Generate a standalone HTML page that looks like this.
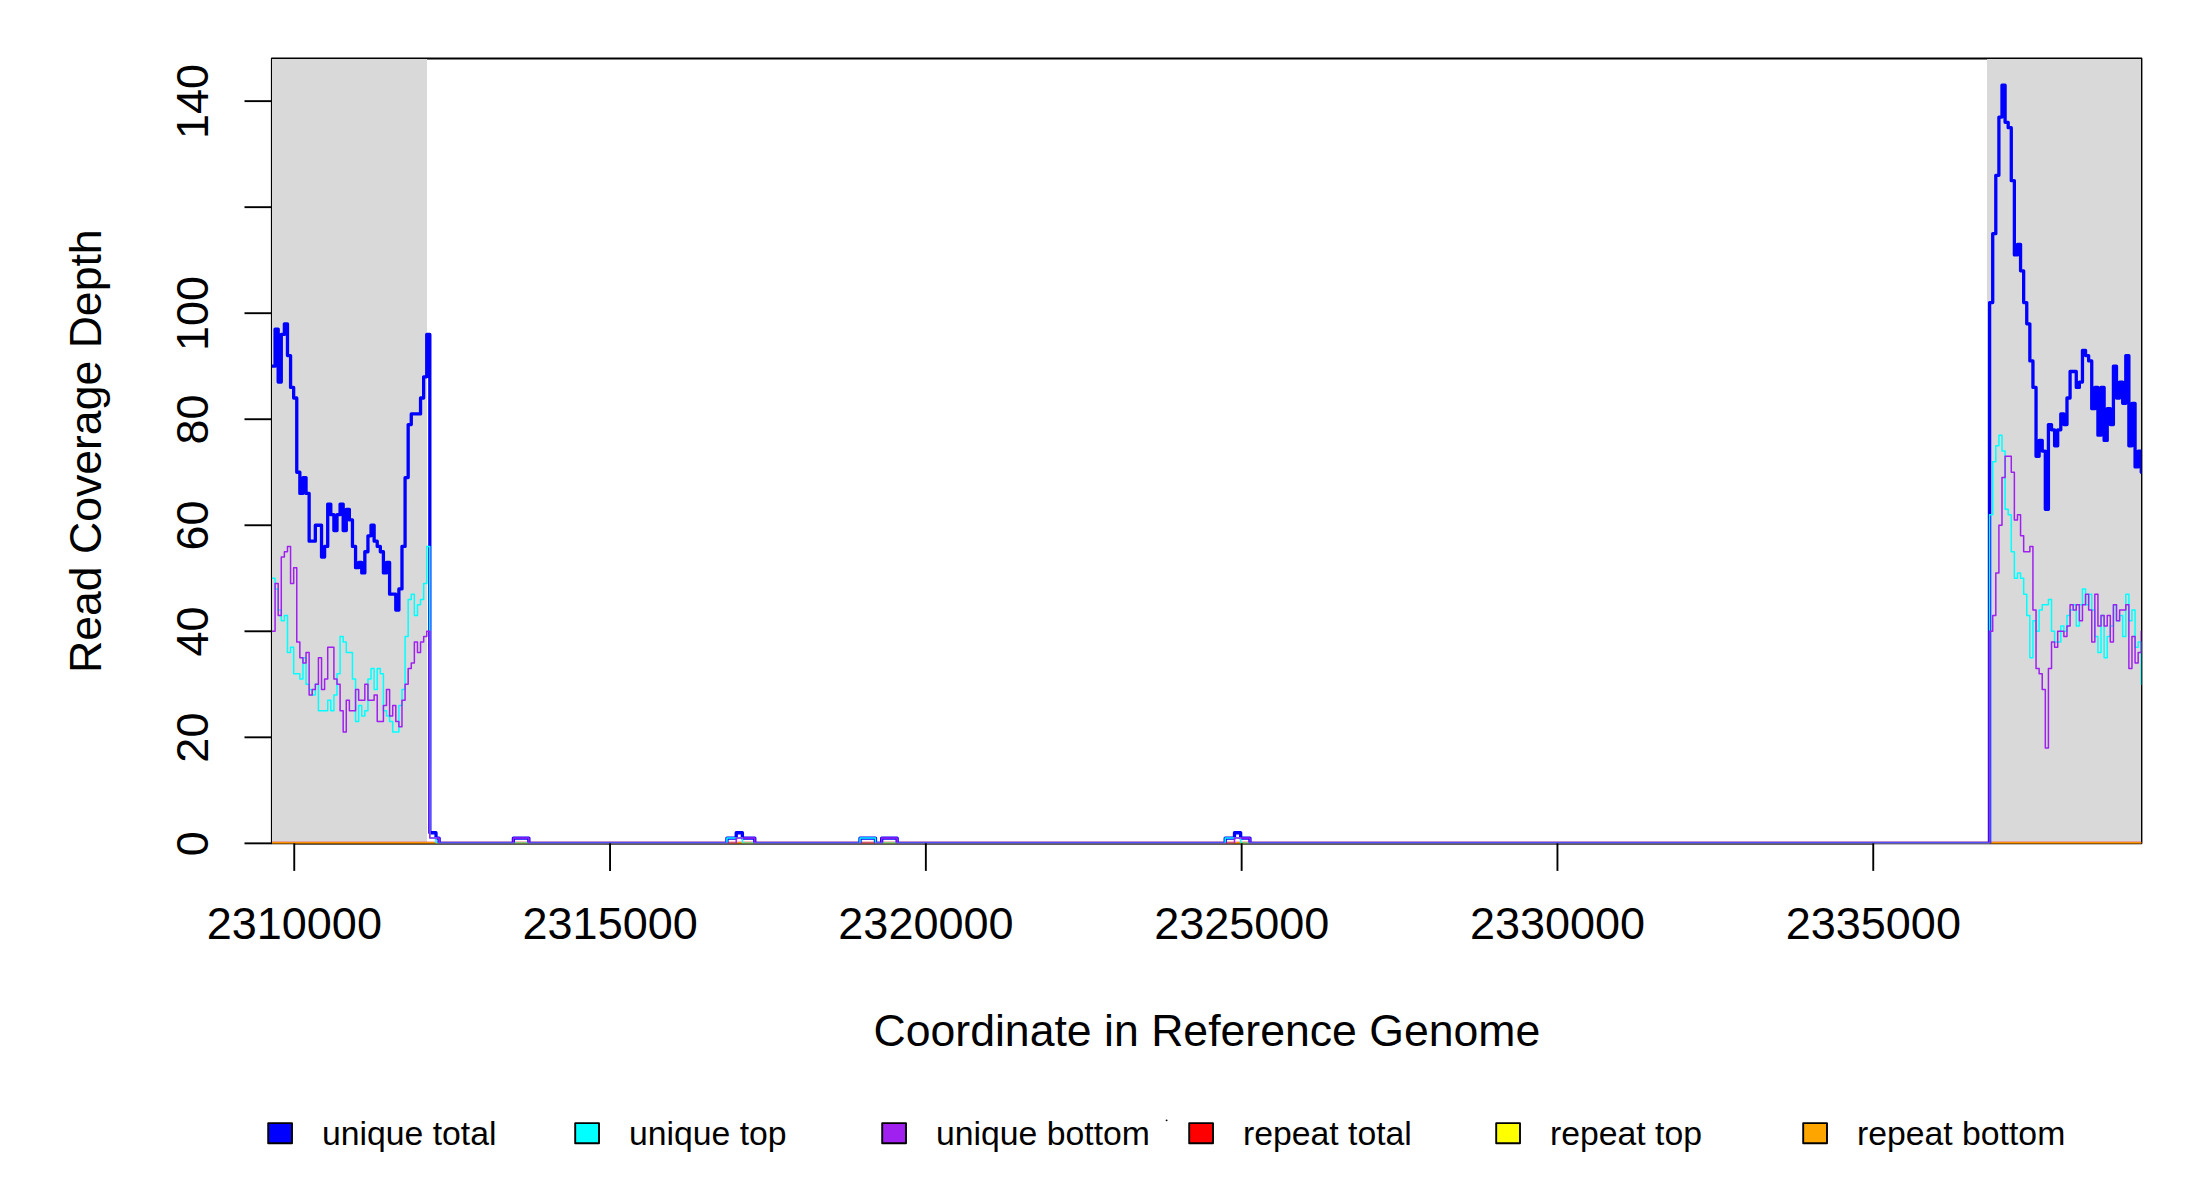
<!DOCTYPE html>
<html lang="en"><head><meta charset="utf-8">
<title>Read Coverage Depth</title>
<style>
html,body{margin:0;padding:0;background:#fff;}
body{width:2200px;height:1200px;overflow:hidden;}
svg{display:block;}
text{font-family:'Liberation Sans', Arial, Helvetica, sans-serif;fill:#000;}
.ax{font-size:45px;}
.ti{font-size:44.6px;}
.lg{font-size:33.75px;}
.ln{fill:none;stroke-linejoin:round;stroke-linecap:round;}
.k{stroke:#000;stroke-width:1.9;fill:none;stroke-linecap:butt;stroke-linejoin:round;}
</style></head><body>
<svg width="2200" height="1200" viewBox="0 0 2200 1200">
<rect x="0" y="0" width="2200" height="1200" fill="#fff"/>
<defs><clipPath id="plot"><rect x="272" y="58.48" width="1869.3" height="784.67"/></clipPath></defs>
<rect class="k" x="271.85" y="58.48" width="1869.62" height="784.87"/>
<rect x="272" y="59" width="155" height="784" fill="#d9d9d9"/>
<rect x="1987" y="59" width="154" height="784" fill="#d9d9d9"/>
<path class="k" d="M294.25 843.48 H1873.25"/>
<g clip-path="url(#plot)">
<path class="ln" stroke="#ff0000" stroke-width="3.3" d="M269 843.35H2147.26"/>
<path class="ln" stroke="#ffff00" stroke-width="1.5" d="M269 843.35H2147.26"/>
<path class="ln" stroke="#ffa500" stroke-width="1.5" d="M269 843.35H2147.26"/>
<path class="ln" stroke="#0000ff" stroke-width="3.3" d="M269 366.22H275.09V329.1H278.19V382.12H281.28V334.41H284.38V323.8H287.47V355.61H290.57V387.42H293.66V398.02H296.76V472.25H299.85V493.45H302.95V477.55H306.04V493.45H309.14V541.16H315.33V525.26H321.52V557.07H324.61V546.47H327.71V504.05H330.8V514.66H333.9V530.56H336.99V514.66H340.09V504.05H343.18V530.56H346.28V509.36H349.37V519.96H352.46V546.47H355.56V567.67H358.65V562.37H361.75V572.97H364.84V551.77H367.94V535.86H371.03V525.26H374.13V541.16H377.22V546.47H380.32V551.77H383.41V572.97H386.51V562.37H389.6V594.18H395.79V610.08H398.89V588.88H401.98V546.47H405.08V477.55H408.17V424.53H411.27V413.93H420.55V398.02H423.65V376.82H426.74V334.41H429.83V832.75H436.02V838.05H439.12V843.35H513.39V838.05H528.87V843.35H726.94V838.05H736.22V832.75H742.41V838.05H754.79V843.35H860.01V838.05H875.49V843.35H881.68V838.05H897.15V843.35H1225.2V838.05H1234.48V832.75H1240.67V838.05H1249.96V843.35H1989.61V302.6H1992.71V233.68H1995.8V175.36H1998.9V117.04H2001.99V85.24H2005.09V122.35H2008.18V127.65H2011.28V180.66H2014.37V254.88H2017.47V244.28H2020.56V270.79H2023.66V302.6H2026.75V323.8H2029.85V360.91H2032.94V387.42H2036.04V456.34H2039.13V440.44H2042.23V451.04H2045.32V509.36H2048.42V424.53H2051.51V429.83H2054.6V445.74H2057.7V429.83H2060.79V413.93H2063.89V424.53H2066.98V398.02H2070.08V371.52H2076.27V387.42H2079.36V382.12H2082.46V350.31H2085.55V355.61H2088.65V360.91H2091.74V408.63H2094.84V387.42H2097.93V435.13H2101.03V387.42H2104.12V440.44H2107.22V408.63H2110.31V424.53H2113.41V366.22H2116.5V398.02H2119.6V382.12H2122.69V403.33H2125.79V355.61H2128.88V445.74H2131.97V403.33H2135.07V466.94H2138.16V451.04H2141.26V472.25H2147.26"/>
<path class="ln" stroke="#00ffff" stroke-width="1.5" d="M269 578.28H275.09V588.88H278.19V610.08H281.28V620.69H284.38V615.39H287.47V652.5H290.57V647.19H293.66V673.7H299.85V679H302.95V657.8H306.04V684.31H309.14V689.61H312.23V694.91H315.33V684.31H318.42V710.81H327.71V700.21H330.8V710.81H333.9V694.91H336.99V673.7H340.09V636.59H343.18V641.89H346.28V652.5H352.46V679H355.56V721.42H358.65V705.51H361.75V716.11H364.84V710.81H367.94V679H371.03V668.4H374.13V689.61H377.22V668.4H380.32V673.7H383.41V710.81H386.51V716.11H389.6V721.42H392.7V732.02H398.89V705.51H401.98V689.61H405.08V636.59H408.17V599.48H411.27V594.18H414.36V615.39H417.46V604.78H420.55V599.48H423.65V583.58H426.74V546.47H429.83V838.05H436.02V843.35H726.94V838.05H742.41V843.35H860.01V838.05H875.49V843.35H1225.2V838.05H1240.67V843.35H1989.61V514.66H1992.71V461.64H1995.8V445.74H1998.9V435.13H2001.99V451.04H2005.09V509.36H2008.18V514.66H2011.28V551.77H2014.37V578.28H2017.47V572.97H2020.56V578.28H2023.66V594.18H2026.75V615.39H2029.85V657.8H2032.94V620.69H2036.04V631.29H2039.13V610.08H2042.23V604.78H2048.42V599.48H2051.51V631.29H2054.6V641.89H2060.79V625.99H2063.89V631.29H2066.98V615.39H2070.08V610.08H2073.17V604.78H2076.27V625.99H2079.36V604.78H2082.46V588.88H2085.55V604.78H2088.65V594.18H2091.74V610.08H2094.84V636.59H2097.93V652.5H2101.03V615.39H2104.12V657.8H2107.22V636.59H2110.31V625.99H2113.41V604.78H2116.5V620.69H2119.6V615.39H2122.69V636.59H2125.79V594.18H2128.88V620.69H2131.97V610.08H2135.07V647.19H2138.16V641.89H2141.26V684.31H2147.26"/>
<path class="ln" stroke="#a020f0" stroke-width="1.5" d="M269 631.29H275.09V583.58H278.19V615.39H281.28V557.07H284.38V551.77H287.47V546.47H290.57V583.58H293.66V567.67H296.76V641.89H299.85V657.8H302.95V663.1H306.04V652.5H309.14V694.91H312.23V689.61H315.33V684.31H318.42V657.8H321.52V689.61H324.61V679H327.71V647.19H333.9V679H336.99V684.31H340.09V710.81H343.18V732.02H346.28V700.21H349.37V710.81H355.56V689.61H358.65V700.21H364.84V684.31H367.94V700.21H374.13V694.91H377.22V721.42H383.41V705.51H386.51V689.61H389.6V716.11H392.7V705.51H395.79V721.42H398.89V726.72H401.98V700.21H405.08V684.31H408.17V668.4H411.27V663.1H414.36V641.89H417.46V652.5H420.55V641.89H423.65V636.59H426.74V631.29H429.83V838.05H439.12V843.35H513.39V838.05H528.87V843.35H736.22V838.05H754.79V843.35H881.68V838.05H897.15V843.35H1234.48V838.05H1249.96V843.35H1989.61V631.29H1992.71V615.39H1995.8V572.97H1998.9V525.26H2001.99V477.55H2005.09V456.34H2011.28V472.25H2014.37V519.96H2017.47V514.66H2020.56V535.86H2023.66V551.77H2029.85V546.47H2032.94V610.08H2036.04V668.4H2039.13V673.7H2042.23V689.61H2045.32V747.92H2048.42V668.4H2051.51V641.89H2054.6V647.19H2057.7V631.29H2063.89V636.59H2066.98V625.99H2070.08V604.78H2073.17V610.08H2076.27V604.78H2079.36V620.69H2082.46V604.78H2085.55V594.18H2088.65V610.08H2091.74V641.89H2094.84V594.18H2097.93V625.99H2101.03V615.39H2104.12V625.99H2107.22V615.39H2110.31V641.89H2113.41V604.78H2116.5V620.69H2119.6V610.08H2125.79V604.78H2128.88V668.4H2131.97V636.59H2135.07V663.1H2138.16V652.5H2141.26V631.29H2147.26"/>
</g>
<g>
<path class="k" d="M294.25 843.35 V870.9"/>
<text class="ax" x="294.35" y="939.3" text-anchor="middle">2310000</text>
<path class="k" d="M610.05 843.35 V870.9"/>
<text class="ax" x="610.15" y="939.3" text-anchor="middle">2315000</text>
<path class="k" d="M925.85 843.35 V870.9"/>
<text class="ax" x="925.95" y="939.3" text-anchor="middle">2320000</text>
<path class="k" d="M1241.65 843.35 V870.9"/>
<text class="ax" x="1241.75" y="939.3" text-anchor="middle">2325000</text>
<path class="k" d="M1557.45 843.35 V870.9"/>
<text class="ax" x="1557.55" y="939.3" text-anchor="middle">2330000</text>
<path class="k" d="M1873.25 843.35 V870.9"/>
<text class="ax" x="1873.35" y="939.3" text-anchor="middle">2335000</text>
</g>
<g>
<path class="k" d="M271.85 843.35 H244.5"/>
<text class="ax" transform="translate(207.6 843.65) rotate(-90)" text-anchor="middle">0</text>
<path class="k" d="M271.85 737.32 H244.5"/>
<text class="ax" transform="translate(207.6 737.62) rotate(-90)" text-anchor="middle">20</text>
<path class="k" d="M271.85 631.29 H244.5"/>
<text class="ax" transform="translate(207.6 631.59) rotate(-90)" text-anchor="middle">40</text>
<path class="k" d="M271.85 525.26 H244.5"/>
<text class="ax" transform="translate(207.6 525.56) rotate(-90)" text-anchor="middle">60</text>
<path class="k" d="M271.85 419.23 H244.5"/>
<text class="ax" transform="translate(207.6 419.53) rotate(-90)" text-anchor="middle">80</text>
<path class="k" d="M271.85 313.2 H244.5"/>
<text class="ax" transform="translate(207.6 313.5) rotate(-90)" text-anchor="middle">100</text>
<path class="k" d="M271.85 207.17 H244.5"/>
<path class="k" d="M271.85 101.14 H244.5"/>
<text class="ax" transform="translate(207.6 101.44) rotate(-90)" text-anchor="middle">140</text>
</g>
<text class="ti" x="1206.9" y="1046.3" text-anchor="middle">Coordinate in Reference Genome</text>
<text class="ti" transform="translate(100.6 451.2) rotate(-90)" text-anchor="middle">Read Coverage Depth</text>
<g>
<rect x="268.2" y="1123.15" width="23.8" height="20.15" fill="#0000ff" stroke="#000" stroke-width="1.9" stroke-linejoin="round"/>
<text class="lg" x="322" y="1144.7">unique total</text>
<rect x="575.2" y="1123.15" width="23.8" height="20.15" fill="#00ffff" stroke="#000" stroke-width="1.9" stroke-linejoin="round"/>
<text class="lg" x="629" y="1144.7">unique top</text>
<rect x="882.2" y="1123.15" width="23.8" height="20.15" fill="#a020f0" stroke="#000" stroke-width="1.9" stroke-linejoin="round"/>
<text class="lg" x="936" y="1144.7">unique bottom</text>
<rect x="1189.2" y="1123.15" width="23.8" height="20.15" fill="#ff0000" stroke="#000" stroke-width="1.9" stroke-linejoin="round"/>
<text class="lg" x="1243" y="1144.7">repeat total</text>
<rect x="1496.2" y="1123.15" width="23.8" height="20.15" fill="#ffff00" stroke="#000" stroke-width="1.9" stroke-linejoin="round"/>
<text class="lg" x="1550" y="1144.7">repeat top</text>
<rect x="1803.2" y="1123.15" width="23.8" height="20.15" fill="#ffa500" stroke="#000" stroke-width="1.9" stroke-linejoin="round"/>
<text class="lg" x="1857" y="1144.7">repeat bottom</text>
</g>
<circle cx="1166.6" cy="1120.35" r="0.95" fill="#000"/>
</svg>
</body></html>
